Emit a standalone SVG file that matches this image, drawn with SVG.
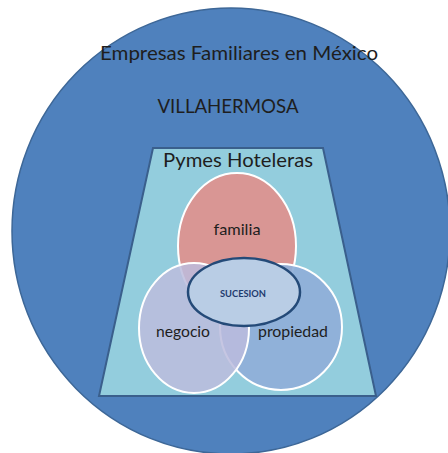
<svg xmlns="http://www.w3.org/2000/svg" width="448" height="453" viewBox="0 0 448 453">
<style>
text{font-family:Lato,"Open Sans","Liberation Sans",sans-serif;fill:#1e1e1e;text-anchor:middle}
.big{font-size:20px}
.mid{font-size:16px}
.ven{stroke:#fff;stroke-width:2}
</style>
<rect width="448" height="453" fill="#fff"/>
<g id="outer">
<ellipse cx="231" cy="231" rx="219" ry="223" fill="#4F81BD" stroke="#3D6797" stroke-width="1.5"/>
<text class="big" x="239" y="60" textLength="278" lengthAdjust="spacingAndGlyphs">Empresas Familiares en México</text>
<text class="big" x="228" y="113" textLength="141" lengthAdjust="spacingAndGlyphs">VILLAHERMOSA</text>
</g>
<g id="pymes">
<polygon points="153,148 323,148 376,396 99,396" fill="#93CDDD" stroke="#3A5F8C" stroke-width="2"/>
<text class="big" x="238" y="167" textLength="150" lengthAdjust="spacingAndGlyphs">Pymes Hoteleras</text>
</g>
<g id="familia">
<ellipse class="ven" cx="237" cy="246" rx="59" ry="73" fill="#D99694"/>
<text class="mid" x="237" y="235" textLength="47" lengthAdjust="spacingAndGlyphs">familia</text>
</g>
<g id="propiedad">
<ellipse class="ven" cx="281" cy="327" rx="61" ry="63" fill="#8FAFD8" fill-opacity="0.92"/>
<text class="mid" x="293" y="337" textLength="70" lengthAdjust="spacingAndGlyphs">propiedad</text>
</g>
<g id="negocio">
<ellipse class="ven" cx="194" cy="328" rx="55" ry="65" fill="#BCBCDD" fill-opacity="0.85"/>
<text class="mid" x="183" y="337" textLength="54" lengthAdjust="spacingAndGlyphs">negocio</text>
</g>
<g id="sucesion">
<ellipse cx="244" cy="292" rx="56" ry="34" fill="#B9CDE5" stroke="#244A78" stroke-width="2.5"/>
<text x="243" y="297" style="font-size:10px;font-weight:bold;fill:#1F3B6E" textLength="46" lengthAdjust="spacingAndGlyphs">SUCESION</text>
</g>
<g id="connectors"/>
</svg>
